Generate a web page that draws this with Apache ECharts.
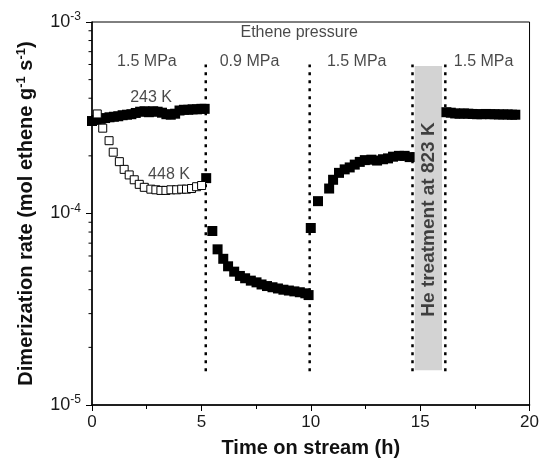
<!DOCTYPE html>
<html><head><meta charset="utf-8">
<script src="https://cdn.jsdelivr.net/npm/echarts@6/dist/echarts.min.js"></script>
<style>html,body{margin:0;padding:0;background:#fff}#c{width:542px;height:465px}</style>
</head><body><div id="c"></div>
<script>
// ---- data (time in h, rate in mol ethene g^-1 s^-1) ----
const phase1X = [0,0.2,0.4,0.6,0.8,1.0,1.2,1.4,1.6,1.8,2.0,2.2,2.4,2.6,2.8,3.0,3.2,3.4,3.6,3.8,4.0,4.2,4.4,4.6,4.8,5.0,5.15];
const phase1Y = [3.04e-4,3.08e-4,3.12e-4,3.15e-4,3.18e-4,3.2e-4,3.22e-4,3.26e-4,3.28e-4,3.3e-4,3.35e-4,3.4e-4,3.42e-4,3.38e-4,3.42e-4,3.4e-4,3.36e-4,3.3e-4,3.28e-4,3.32e-4,3.45e-4,3.48e-4,3.48e-4,3.5e-4,3.5e-4,3.52e-4,3.52e-4];
const switchX = [5.22];
const switchY = [1.53e-4];
const phase2X = [5.5,5.74,6.0,6.22,6.5,6.76,7.0,7.26,7.52,7.75,8.0,8.25,8.5,8.75,9.0,9.25,9.5,9.75,9.9];
const phase2Y = [8.1e-5,6.5e-5,5.8e-5,5.3e-5,4.97e-5,4.72e-5,4.59e-5,4.46e-5,4.37e-5,4.26e-5,4.18e-5,4.12e-5,4.06e-5,4.0e-5,3.96e-5,3.92e-5,3.88e-5,3.83e-5,3.75e-5];
const phase3X = [10.0,10.33,10.84,11.02,11.29,11.55,11.78,12.01,12.24,12.47,12.77,13.03,13.3,13.53,13.76,14.03,14.29,14.52];
const phase3Y = [8.4e-5,1.16e-4,1.35e-4,1.5e-4,1.63e-4,1.7e-4,1.74e-4,1.8e-4,1.86e-4,1.9e-4,1.91e-4,1.89e-4,1.92e-4,1.94e-4,1.98e-4,2.0e-4,2.0e-4,1.97e-4];
const phase4X = [16.2,16.4,16.6,16.8,17.0,17.2,17.4,17.6,17.8,18.0,18.2,18.4,18.6,18.8,19.0,19.2,19.35];
const phase4Y = [3.38e-4,3.36e-4,3.33e-4,3.32e-4,3.33e-4,3.32e-4,3.31e-4,3.3e-4,3.3e-4,3.31e-4,3.3e-4,3.3e-4,3.29e-4,3.29e-4,3.29e-4,3.28e-4,3.28e-4];
const open448X = [0.24,0.49,0.78,0.97,1.25,1.47,1.70,1.93,2.16,2.39,2.69,2.92,3.15,3.38,3.61,3.87,4.10,4.32,4.55,4.78,5.01];
const open448Y = [3.31e-4,2.79e-4,2.4e-4,2.09e-4,1.865e-4,1.7e-4,1.59e-4,1.5e-4,1.42e-4,1.37e-4,1.34e-4,1.33e-4,1.32e-4,1.32e-4,1.33e-4,1.33e-4,1.34e-4,1.34e-4,1.35e-4,1.38e-4,1.4e-4];

const dividerX = [5.2, 9.95, 14.65, 16.15];
const dividerSpan = [1.5e-5, 6e-4];
const heBandX = [14.75, 16.0];
const heBandY = [1.52e-5, 5.9e-4];
const yMinorTicks = [2e-5,3e-5,4e-5,5e-5,6e-5,7e-5,8e-5,9e-5,2e-4,3e-4,4e-4,5e-4,6e-4,7e-4,8e-4,9e-4];

const labelTexts = ['Ethene pressure','1.5 MPa','0.9 MPa','1.5 MPa','1.5 MPa','243 K','448 K'];
const labelX = [9.47, 2.51, 7.2, 12.1, 17.9, 2.7, 3.52];
const labelY = [8.76e-4, 6.18e-4, 6.18e-4, 6.18e-4, 6.18e-4, 4.01e-4, 1.59e-4];
const heText = 'He treatment at 823 K';
const heTextPos = [15.38, 9.3e-5];

const zip = (xs, ys) => xs.map((x, i) => [x, ys[i]]);
const filledData = zip(phase1X, phase1Y).concat(zip(switchX, switchY), zip(phase2X, phase2Y), zip(phase3X, phase3Y), zip(phase4X, phase4Y));
const FONT = 'Arial, "Liberation Sans", sans-serif';

const series = [];
// grey band
series.push({
  type: 'line', data: [], silent: true, z: 1,
  markArea: { silent: true, itemStyle: { color: '#d3d3d3' },
    data: [[{ coord: [heBandX[0], heBandY[0]] }, { coord: [heBandX[1], heBandY[1]] }]] }
});
// dotted dividers
dividerX.forEach(x => series.push({
  type: 'line', symbol: 'none', silent: true, z: 2,
  data: [[x, dividerSpan[0]], [x, dividerSpan[1]]],
  lineStyle: { color: '#000', width: 2.5, type: [3, 5] }
}));
// y minor ticks (log-spaced)
series.push({
  type: 'custom', clip: false, silent: true, z: 5,
  data: yMinorTicks.map(v => [0, v]),
  renderItem: (params, api) => {
    const p = api.coord([api.value(0), api.value(1)]);
    return { type: 'line', shape: { x1: p[0] - 3.5, y1: p[1], x2: p[0], y2: p[1] }, style: { stroke: '#000', lineWidth: 1 } };
  }
});
// filled squares
series.push({
  type: 'scatter', symbol: 'rect', symbolSize: 10, z: 3,
  itemStyle: { color: '#000', opacity: 1 }, data: filledData
});
// open squares (448 K)
series.push({
  type: 'scatter', symbol: 'rect', symbolSize: 8, z: 4,
  itemStyle: { color: '#fff', borderColor: '#000', borderWidth: 1, opacity: 1 },
  data: zip(open448X, open448Y)
});
// text annotations
series.push({
  type: 'scatter', symbolSize: 0, silent: true, z: 6,
  data: labelTexts.map((t, i) => ({ name: t, value: [labelX[i], labelY[i]] })),
  label: { show: true, position: 'inside', formatter: '{b}', color: '#1a1a1a', fontSize: 16, fontFamily: FONT }
});
series.push({
  type: 'scatter', symbolSize: 0, silent: true, z: 6,
  data: [{ name: heText, value: heTextPos }],
  label: { show: true, position: 'inside', rotate: 90, formatter: '{b}', color: '#1a1a1a', fontSize: 19, fontWeight: 'bold', fontFamily: FONT }
});

const chart = echarts.init(document.getElementById('c'));
chart.setOption({
  animation: false,
  backgroundColor: '#fff',
  grid: { left: 92, right: 12, top: 22, bottom: 60, show: true, borderColor: '#000', borderWidth: 1 },
  xAxis: {
    type: 'value', min: 0, max: 20, interval: 5,
    name: 'Time on stream (h)', nameLocation: 'middle', nameGap: 33,
    nameTextStyle: { fontSize: 20, fontWeight: 'bold', color: '#111', fontFamily: FONT },
    axisLine: { lineStyle: { color: '#000', width: 1.5 } },
    axisTick: { length: 6, lineStyle: { color: '#000' } },
    minorTick: { show: true, splitNumber: 2, length: 4, lineStyle: { color: '#000' } },
    splitLine: { show: false },
    axisLabel: { fontSize: 17, color: '#1a1a1a', margin: 9, fontFamily: FONT }
  },
  yAxis: {
    type: 'log', logBase: 10, min: 1e-5, max: 1e-3,
    name: '{t|Dimerization rate (mol ethene g}{s|-1}{t| s}{s|-1}{t|)}',
    nameLocation: 'middle', nameGap: 54, nameRotate: 90,
    nameTextStyle: {
      rich: {
        t: { fontSize: 20, fontWeight: 'bold', color: '#111', fontFamily: FONT },
        s: { fontSize: 13, fontWeight: 'bold', color: '#111', fontFamily: FONT, padding: [0, 0, 10, 0] }
      }
    },
    axisLine: { show: true, lineStyle: { color: '#000', width: 1.5 } },
    axisTick: { length: 6, lineStyle: { color: '#000' } },
    splitLine: { show: false },
    axisLabel: {
      margin: 11,
      formatter: v => '{b|10}{s|' + Math.round(Math.log10(v)) + '}',
      rich: {
        b: { fontSize: 18, color: '#1a1a1a', fontFamily: FONT },
        s: { fontSize: 12, color: '#1a1a1a', fontFamily: FONT, padding: [0, 0, 10, 0] }
      }
    }
  },
  series: series
});
</script></body></html>
